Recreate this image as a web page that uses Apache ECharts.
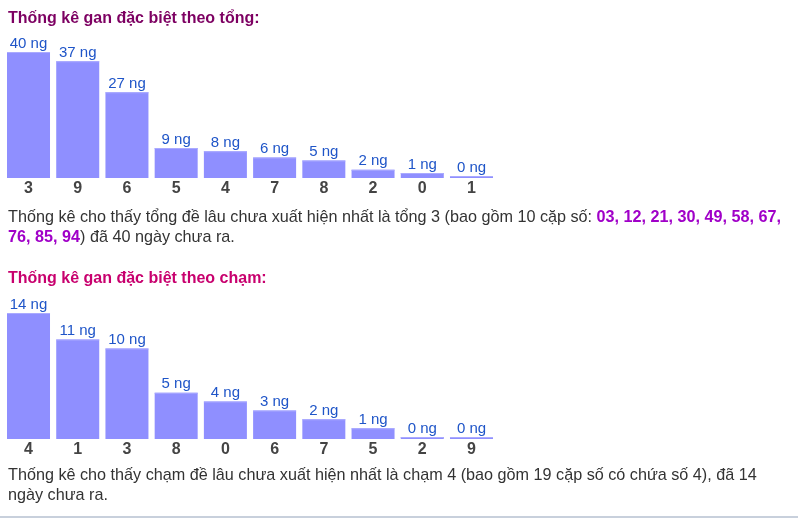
<!DOCTYPE html>
<html>
<head>
<meta charset="utf-8">
<script src="https://cdn.jsdelivr.net/npm/echarts@6/dist/echarts.min.js"></script>
<style>
html,body{margin:0;padding:0;background:#fff;}
#main{width:798px;height:518px;}
</style>
</head>
<body>
<div id="main"></div>
<script>
// Chart 1: gan theo tổng
const tongCategories = ['3', '9', '6', '5', '4', '7', '8', '2', '0', '1'];
const tongValues = [40, 37, 27, 9, 8, 6, 5, 2, 1, 0];
// Chart 2: gan theo chạm
const chamCategories = ['4', '1', '3', '8', '0', '6', '7', '5', '2', '9'];
const chamValues = [14, 11, 10, 5, 4, 3, 2, 1, 0, 0];

const title1 = 'Thống kê gan đặc biệt theo tổng:';
const title2 = 'Thống kê gan đặc biệt theo chạm:';
const para1Start = 'Thống kê cho thấy tổng đề lâu chưa xuất hiện nhất là tổng 3 (bao gồm 10 cặp số: ';
const para1Pairs = ['03', '12', '21', '30', '49', '58', '67', '76', '85', '94'];
const para1End = ') đã 40 ngày chưa ra.';
const para2Line1 = 'Thống kê cho thấy chạm đề lâu chưa xuất hiện nhất là chạm 4 (bao gồm 19 cặp số có chứa số 4), đã 14';
const para2Line2 = 'ngày chưa ra.';

const FONT = 'Arial, "Liberation Sans", sans-serif';
const BAR = '#8f8fff';
const BAR_TOP = '#aaaaff';
const LABEL = '#1f55c8';

function renderBar(params, api) {
  const idx = api.value(0);
  const v = api.value(1);
  const base = api.coord([idx, 0]);
  const top = api.coord([idx, v]);
  const w = 43;
  const x = base[0] - w / 2;
  const yTop = top[1] - 2;
  const h = base[1] - yTop;
  return {
    type: 'group',
    children: [
      { type: 'rect', shape: { x: x, y: yTop, width: w, height: h }, style: { fill: BAR } },
      { type: 'rect', shape: { x: x, y: yTop, width: w, height: 1 }, style: { fill: BAR_TOP } },
      { type: 'text', x: base[0], y: yTop - 1,
        style: { text: v + ' ng', fill: LABEL, font: '15px ' + FONT, textAlign: 'center', textVerticalAlign: 'bottom' } }
    ]
  };
}

function mkData(vals) { return vals.map((v, i) => [i, v]); }

const richP = { fontSize: 16.2, fontWeight: 'normal', fontFamily: FONT, color: '#333', lineHeight: 20 };
const pairsA = para1Pairs.slice(0, 7).join(', ') + ',';
const pairsB = para1Pairs.slice(7).join(', ');

const option = {
  animation: false,
  title: [
    { text: title1, left: 8, top: 11, padding: 0,
      textStyle: { fontSize: 16, fontWeight: 'bold', color: '#7d0062', fontFamily: FONT } },
    { text: title2, left: 8, top: 271, padding: 0,
      textStyle: { fontSize: 16, fontWeight: 'bold', color: '#c8006e', fontFamily: FONT } },
    { text: para1Start + '{b|' + pairsA + '}\n{b|' + pairsB + '}' + para1End, left: 8, top: 208, padding: 0,
      textStyle: Object.assign({}, richP, { rich: { b: { fontSize: 16.2, fontFamily: FONT, fontWeight: 'bold', color: '#a000c8', lineHeight: 20 } } }) },
    { text: para2Line1 + '\n' + para2Line2, left: 8, top: 466, padding: 0,
      textStyle: richP }
  ],
  grid: [
    { left: 3.9, width: 492.2, top: 54, height: 124 },
    { left: 3.9, width: 492.2, top: 315, height: 124 }
  ],
  xAxis: [
    { type: 'category', gridIndex: 0, data: tongCategories,
      axisLine: { show: false }, axisTick: { show: false },
      axisLabel: { margin: 3, fontSize: 16, fontWeight: 'bold', color: '#444', fontFamily: FONT } },
    { type: 'category', gridIndex: 1, data: chamCategories,
      axisLine: { show: false }, axisTick: { show: false },
      axisLabel: { margin: 3, fontSize: 16, fontWeight: 'bold', color: '#444', fontFamily: FONT } }
  ],
  yAxis: [
    { type: 'value', gridIndex: 0, min: 0, max: 40, show: false },
    { type: 'value', gridIndex: 1, min: 0, max: 14, show: false }
  ],
  series: [
    { type: 'custom', xAxisIndex: 0, yAxisIndex: 0, data: mkData(tongValues), renderItem: renderBar, encode: { x: 0, y: 1 } },
    { type: 'custom', xAxisIndex: 1, yAxisIndex: 1, data: mkData(chamValues), renderItem: renderBar, encode: { x: 0, y: 1 } }
  ],
  graphic: [
    { type: 'rect', shape: { x: 0, y: 516, width: 798, height: 2 }, style: { fill: '#c8d0dc' } }
  ]
};

const chart = echarts.init(document.getElementById('main'), null, { renderer: 'canvas' });
chart.setOption(option);
</script>
</body>
</html>
